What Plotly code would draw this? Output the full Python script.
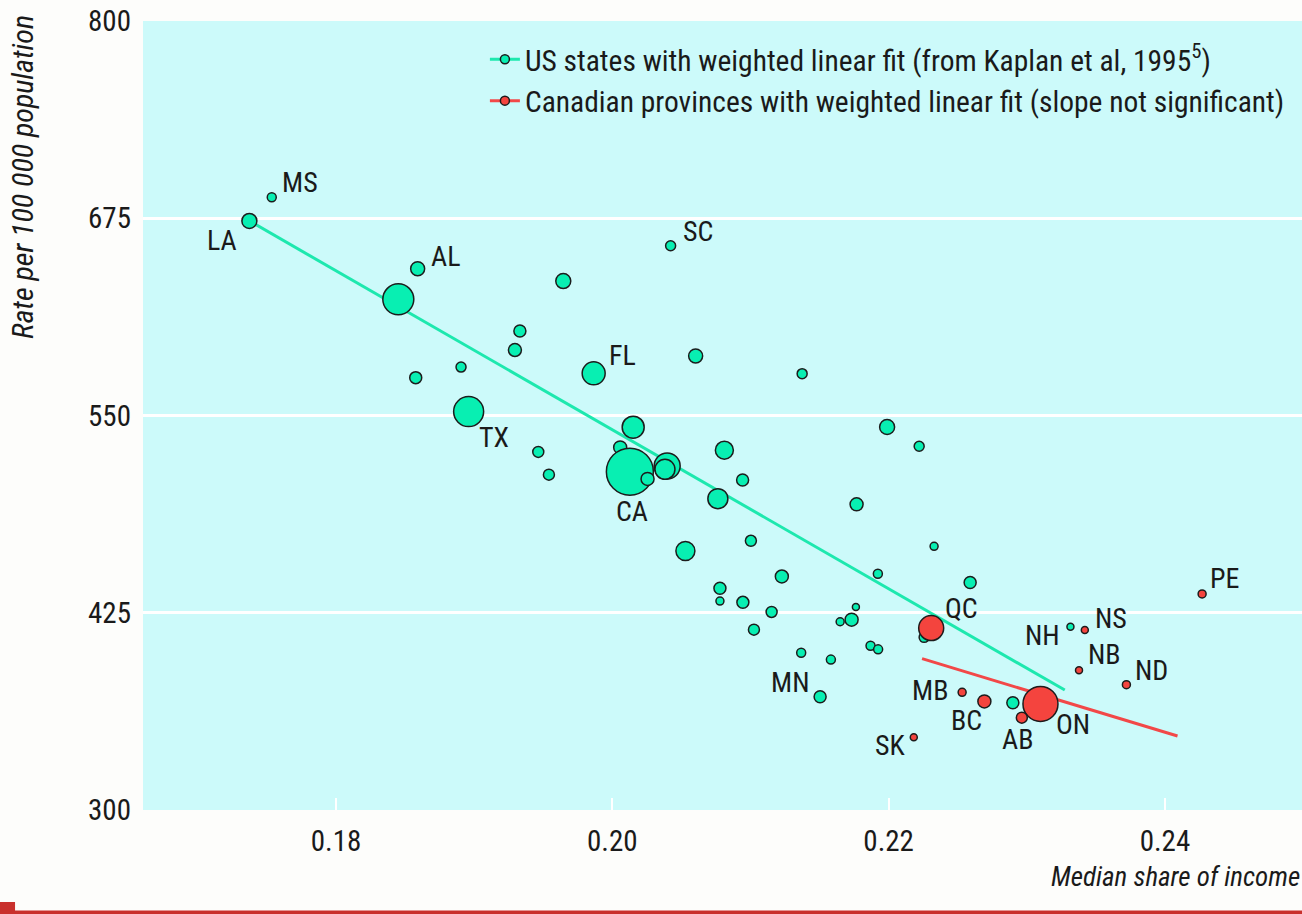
import plotly.graph_objects as go

# ---------------- data ----------------
us_labels = ["LA", "MS", "AL", "", "", "SC", "", "", "FL", "", "",
             "TX", "", "", "", "", "CA", "", "", "", "", "", "", "", "",
             "", "", "", "", "", "", "", "", "", "", "", "", "", "", "",
             "", "", "", "", "", "", "", "MN", "NH", ""]
us_x = [0.17373, 0.17535, 0.18591, 0.18451, 0.19645, 0.20422, 0.19331, 0.19295, 0.19865, 0.18905, 0.18577,
        0.18960, 0.20151, 0.20603, 0.21374, 0.20057, 0.20127, 0.20255, 0.20397, 0.20381, 0.19464, 0.19541,
        0.20811, 0.20943, 0.20764, 0.20529, 0.21003, 0.21227, 0.20779, 0.20779, 0.20945, 0.21153, 0.21989,
        0.22221, 0.21768, 0.22329, 0.21922, 0.22590, 0.21763, 0.21732, 0.21649, 0.21025, 0.22257, 0.21367,
        0.21582, 0.21869, 0.21924, 0.21504, 0.23316, 0.22899]
us_y = [673.3, 688.3, 643.0, 623.6, 635.2, 657.6, 603.5, 591.5, 576.7, 580.7, 574.0,
        552.5, 542.6, 587.7, 576.5, 529.8, 514.4, 509.8, 518.0, 515.9, 526.9, 512.5,
        528.0, 509.1, 497.3, 464.1, 470.6, 448.0, 440.5, 432.4, 431.6, 425.5, 542.7,
        530.5, 493.7, 467.1, 449.7, 444.2, 428.6, 420.6, 419.3, 414.3, 409.4, 399.7,
        395.3, 404.1, 401.8, 371.8, 416.2, 368.0]
# relative population weight (drawn as bubble diameter)
us_w = [15, 9, 14, 31, 15, 10, 12, 13, 23, 10, 12,
        30, 22, 14, 10, 13, 47, 13, 26, 20, 11, 11,
        18, 12, 20, 19, 11, 13, 12, 8, 12, 11, 15,
        10, 13, 8, 9, 12, 7, 13, 8, 11, 10, 9,
        9, 9, 9, 12, 7, 12]

ca_labels = ["QC", "ON", "BC", "MB", "AB", "SK", "NS", "NB", "ND", "PE"]
ca_x = [0.22308, 0.23099, 0.22693, 0.22532, 0.22964, 0.22182, 0.23420, 0.23378, 0.23721, 0.24269]
ca_y = [415.3, 367.2, 368.8, 374.6, 358.5, 346.1, 414.1, 388.5, 379.4, 436.9]
ca_w = [25, 35, 13, 8, 11, 7, 7, 7, 8, 8]

fit_us_x = [0.17373, 0.23275]
fit_us_y = [673.3, 376.0]
fit_ca_x = [0.22242, 0.24091]
fit_ca_y = [395.9, 346.9]

x_ticks = [0.18, 0.20, 0.22, 0.24]
x_ticktext = ["0.18", "0.20", "0.22", "0.24"]
y_ticks = [300, 425, 550, 675, 800]
y_ticktext = ["300", "425", "550", "675", "800"]

legend_us = "US states with weighted linear fit (from Kaplan et al, 1995<sup>5</sup>)"
legend_ca = "Canadian provinces with weighted linear fit (slope not significant)"
y_title = "Rate per 100 000 population"
x_title = "Median share of income"

# ---------------- styles ----------------
FONT = "Roboto Condensed, DejaVu Sans Condensed, sans-serif"
TXT = "#1a1a1a"
GREEN_FILL = "#08EFB2"
GREEN_LINE = "#1DE8AE"
RED_FILL = "#F4443E"
RED_LINE = "#F24848"
OUTLINE = "#1c1c1c"
PLOT_BG = "#CCFAFA"

# label placement: (xanchor, xshift, yshift)
label_pos = {
    "MS": ("left", 8, 15), "LA": ("right", -10, -20), "AL": ("left", 11, 12),
    "SC": ("left", 10, 14), "FL": ("left", 13, 18), "TX": ("left", 8, -26),
    "CA": ("center", 2, -40), "MN": ("right", -8, 14), "NH": ("right", -8, -9),
    "QC": ("left", 12, 20), "MB": ("right", -12, 2), "BC": ("center", -18, -19),
    "AB": ("center", -4, -22), "ON": ("left", 14, -21), "SK": ("right", -6, -8),
    "NS": ("left", 8, 11), "NB": ("left", 7, 16), "ND": ("left", 7, 14),
    "PE": ("left", 6, 15),
}

fig = go.Figure()

fig.add_trace(go.Scatter(x=fit_us_x, y=fit_us_y, mode="lines",
                         line=dict(color=GREEN_LINE, width=3), showlegend=False, hoverinfo="skip"))
fig.add_trace(go.Scatter(x=fit_ca_x, y=fit_ca_y, mode="lines",
                         line=dict(color=RED_LINE, width=3), showlegend=False, hoverinfo="skip"))

fig.add_trace(go.Scatter(x=us_x, y=us_y, mode="markers", showlegend=False,
                         marker=dict(size=us_w, color=GREEN_FILL, opacity=1,
                                     line=dict(color=OUTLINE, width=1.5))))
fig.add_trace(go.Scatter(x=ca_x, y=ca_y, mode="markers", showlegend=False,
                         marker=dict(size=ca_w, color=RED_FILL, opacity=1,
                                     line=dict(color=OUTLINE, width=1.5))))

# legend entries
fig.add_trace(go.Scatter(x=[None], y=[None], mode="lines+markers", name=legend_us,
                         line=dict(color=GREEN_LINE, width=3),
                         marker=dict(size=9, color=GREEN_FILL, line=dict(color=OUTLINE, width=1.5))))
fig.add_trace(go.Scatter(x=[None], y=[None], mode="lines+markers", name=legend_ca,
                         line=dict(color=RED_LINE, width=3),
                         marker=dict(size=9, color=RED_FILL, line=dict(color=OUTLINE, width=1.5))))

annotations = []
for labels, xs, ys in ((us_labels, us_x, us_y), (ca_labels, ca_x, ca_y)):
    for lab, xv, yv in zip(labels, xs, ys):
        if not lab:
            continue
        xa, xs_, ys_ = label_pos[lab]
        annotations.append(dict(x=xv, y=yv, xref="x", yref="y", text=lab, showarrow=False,
                                xanchor=xa, yanchor="middle", xshift=xs_, yshift=ys_,
                                font=dict(family=FONT, size=28, color=TXT)))

annotations.append(dict(text="<i>" + y_title + "</i>", xref="paper", yref="paper",
                        x=-0.1044, y=1.0101, xanchor="center", yanchor="top", textangle=-90,
                        showarrow=False, font=dict(family=FONT, size=30, color=TXT)))
annotations.append(dict(text="<i>" + x_title + "</i>", xref="paper", yref="paper",
                        x=1.0, y=-0.085, xanchor="right", yanchor="middle",
                        showarrow=False, font=dict(family=FONT, size=27, color=TXT)))

fig.update_layout(
    width=1302, height=914, autosize=False,
    margin=dict(l=143, r=0, t=21, b=104, pad=0, autoexpand=False),
    paper_bgcolor="#FDFDFB", plot_bgcolor=PLOT_BG,
    font=dict(family=FONT, size=28, color=TXT),
    xaxis=dict(range=[0.16603, 0.24992], tickvals=x_ticks, ticktext=x_ticktext,
               ticks="inside", ticklen=12, tickwidth=2, tickcolor="white",
               showgrid=False, zeroline=False, showline=False, ticklabelstandoff=11,
               tickfont=dict(family=FONT, size=29, color=TXT)),
    yaxis=dict(range=[300, 800], tickvals=y_ticks, ticktext=y_ticktext,
               showgrid=True, gridcolor="white", gridwidth=3, zeroline=False, showline=False,
               ticks="", ticklen=0, ticklabelstandoff=11,
               tickfont=dict(family=FONT, size=29, color=TXT)),
    legend=dict(x=0.295, y=0.984, xanchor="left", yanchor="top", bgcolor="rgba(0,0,0,0)",
                font=dict(family=FONT, size=29.5, color=TXT), tracegroupgap=0),
    annotations=annotations,
    shapes=[
        dict(type="rect", xref="paper", yref="paper", x0=-0.1234, x1=1.0, y0=-0.1318, y1=-0.1273,
             line=dict(width=0), fillcolor="#C9302C", layer="above"),
        dict(type="rect", xref="paper", yref="paper", x0=-0.1234, x1=-0.1104, y0=-0.1318, y1=-0.1166,
             line=dict(width=0), fillcolor="#C9302C", layer="above"),
    ],
)

fig.write_html("out.html", config={"displayModeBar": False},
               post_script="document.body.style.margin='0';document.body.style.overflow='hidden';"
                           "document.documentElement.style.overflow='hidden';")
